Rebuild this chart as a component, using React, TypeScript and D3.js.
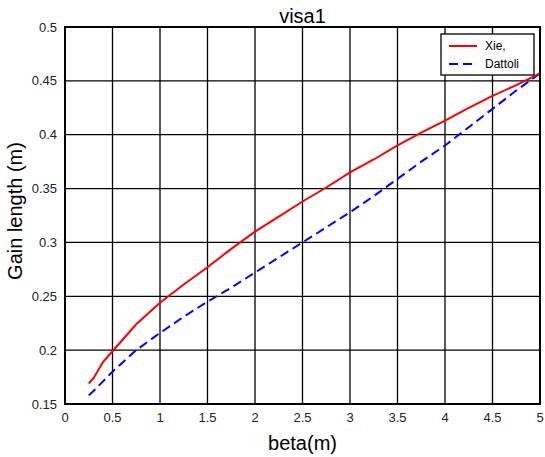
import { useEffect, useRef } from "react";
import * as d3 from "d3";

const betaValues = [0.25, 0.3, 0.4, 0.5, 0.75, 1, 1.25, 1.5, 1.75, 2, 2.25, 2.5, 2.75, 3, 3.25, 3.5, 3.75, 4, 4.25, 4.5, 4.75, 5];
const xieValues = [0.169, 0.174, 0.189, 0.199, 0.224, 0.244, 0.261, 0.277, 0.294, 0.31, 0.324, 0.338, 0.351, 0.365, 0.377, 0.39, 0.402, 0.413, 0.425, 0.436, 0.446, 0.457];
const dattoliValues = [0.158, 0.162, 0.171, 0.18, 0.2, 0.216, 0.231, 0.245, 0.258, 0.272, 0.286, 0.3, 0.314, 0.328, 0.343, 0.359, 0.375, 0.39, 0.407, 0.424, 0.441, 0.457];
const xTicks = [0, 0.5, 1, 1.5, 2, 2.5, 3, 3.5, 4, 4.5, 5];
const yTicks = [0.15, 0.2, 0.25, 0.3, 0.35, 0.4, 0.45, 0.5];
const seriesNames = ["Xie,", "Dattoli"];

const App = () => {
  const svgRef = useRef<SVGSVGElement | null>(null);

  useEffect(() => {
    const width = 545;
    const height = 457;
    const margin = { top: 27, right: 5, bottom: 53, left: 65 };
    const font = "'Liberation Sans', Arial, sans-serif";

    const svg = d3.select(svgRef.current).attr("width", width).attr("height", height);
    svg.selectAll("*").remove();
    svg.append("rect").attr("width", width).attr("height", height).attr("fill", "white");

    const x = d3.scaleLinear().domain([0, 5]).range([margin.left, width - margin.right]);
    const y = d3.scaleLinear().domain([0.15, 0.5]).range([height - margin.bottom, margin.top]);

    // grid
    const grid = svg.append("g");
    grid
      .selectAll("line.vx")
      .data(xTicks)
      .join("line")
      .attr("x1", (d) => x(d))
      .attr("x2", (d) => x(d))
      .attr("y1", y(0.15))
      .attr("y2", y(0.5))
      .attr("stroke", "black")
      .attr("stroke-width", 1.3);
    grid
      .selectAll("line.hy")
      .data(yTicks)
      .join("line")
      .attr("x1", x(0))
      .attr("x2", x(5))
      .attr("y1", (d) => y(d))
      .attr("y2", (d) => y(d))
      .attr("stroke", "black")
      .attr("stroke-width", 1.3);

    // tick labels
    svg
      .append("g")
      .selectAll("text")
      .data(xTicks)
      .join("text")
      .attr("x", (d) => x(d))
      .attr("y", y(0.15) + 18)
      .attr("text-anchor", "middle")
      .attr("font-family", font)
      .attr("font-size", 13)
      .attr("fill", "#222")
      .text((d) => String(d));
    svg
      .append("g")
      .selectAll("text")
      .data(yTicks)
      .join("text")
      .attr("x", x(0) - 8)
      .attr("y", (d) => y(d) + 4.5)
      .attr("text-anchor", "end")
      .attr("font-family", font)
      .attr("font-size", 13)
      .attr("fill", "#222")
      .text((d) => String(d));

    // lines
    const xie = betaValues.map((b, i) => [b, xieValues[i]] as [number, number]);
    const dat = betaValues.map((b, i) => [b, dattoliValues[i]] as [number, number]);
    const line = d3
      .line<[number, number]>()
      .x((d) => x(d[0]))
      .y((d) => y(d[1]));

    svg
      .append("path")
      .attr("d", line(dat))
      .attr("fill", "none")
      .attr("stroke", "#0000ff")
      .attr("stroke-width", 2)
      .attr("stroke-dasharray", "9,5");
    svg
      .append("path")
      .attr("d", line(xie))
      .attr("fill", "none")
      .attr("stroke", "#ff0000")
      .attr("stroke-width", 2);

    // frame
    svg
      .append("rect")
      .attr("x", x(0))
      .attr("y", y(0.5))
      .attr("width", x(5) - x(0))
      .attr("height", y(0.15) - y(0.5))
      .attr("fill", "none")
      .attr("stroke", "black")
      .attr("stroke-width", 2);

    // titles
    svg
      .append("text")
      .attr("x", (x(0) + x(5)) / 2)
      .attr("y", 23)
      .attr("text-anchor", "middle")
      .attr("font-family", font)
      .attr("font-size", 20)
      .text("visa1");
    svg
      .append("text")
      .attr("x", (x(0) + x(5)) / 2)
      .attr("y", 450)
      .attr("text-anchor", "middle")
      .attr("font-family", font)
      .attr("font-size", 20)
      .text("beta(m)");
    svg
      .append("text")
      .attr("transform", `translate(22,211) rotate(-90)`)
      .attr("text-anchor", "middle")
      .attr("font-family", font)
      .attr("font-size", 20)
      .text("Gain length (m)");

    // legend
    const legend = svg.append("g").attr("transform", "translate(441,34)");
    legend
      .append("rect")
      .attr("width", 93)
      .attr("height", 41)
      .attr("fill", "white")
      .attr("stroke", "black")
      .attr("stroke-width", 1.3);
    const colors = ["#ff0000", "#0000ff"];
    seriesNames.forEach((name, i) => {
      const ly = 12 + i * 18;
      legend
        .append("line")
        .attr("x1", 8)
        .attr("x2", 36)
        .attr("y1", ly)
        .attr("y2", ly)
        .attr("stroke", colors[i])
        .attr("stroke-width", 2)
        .attr("stroke-dasharray", i === 1 ? "9,5" : null);
      legend
        .append("text")
        .attr("x", 44)
        .attr("y", ly + 4)
        .attr("font-family", font)
        .attr("font-size", 12)
        .text(name);
    });
  }, []);

  return (
    <div style={{ position: "absolute", left: 0, top: 0 }}>
      <svg ref={svgRef} style={{ display: "block" }} />
    </div>
  );
};

export default App;
